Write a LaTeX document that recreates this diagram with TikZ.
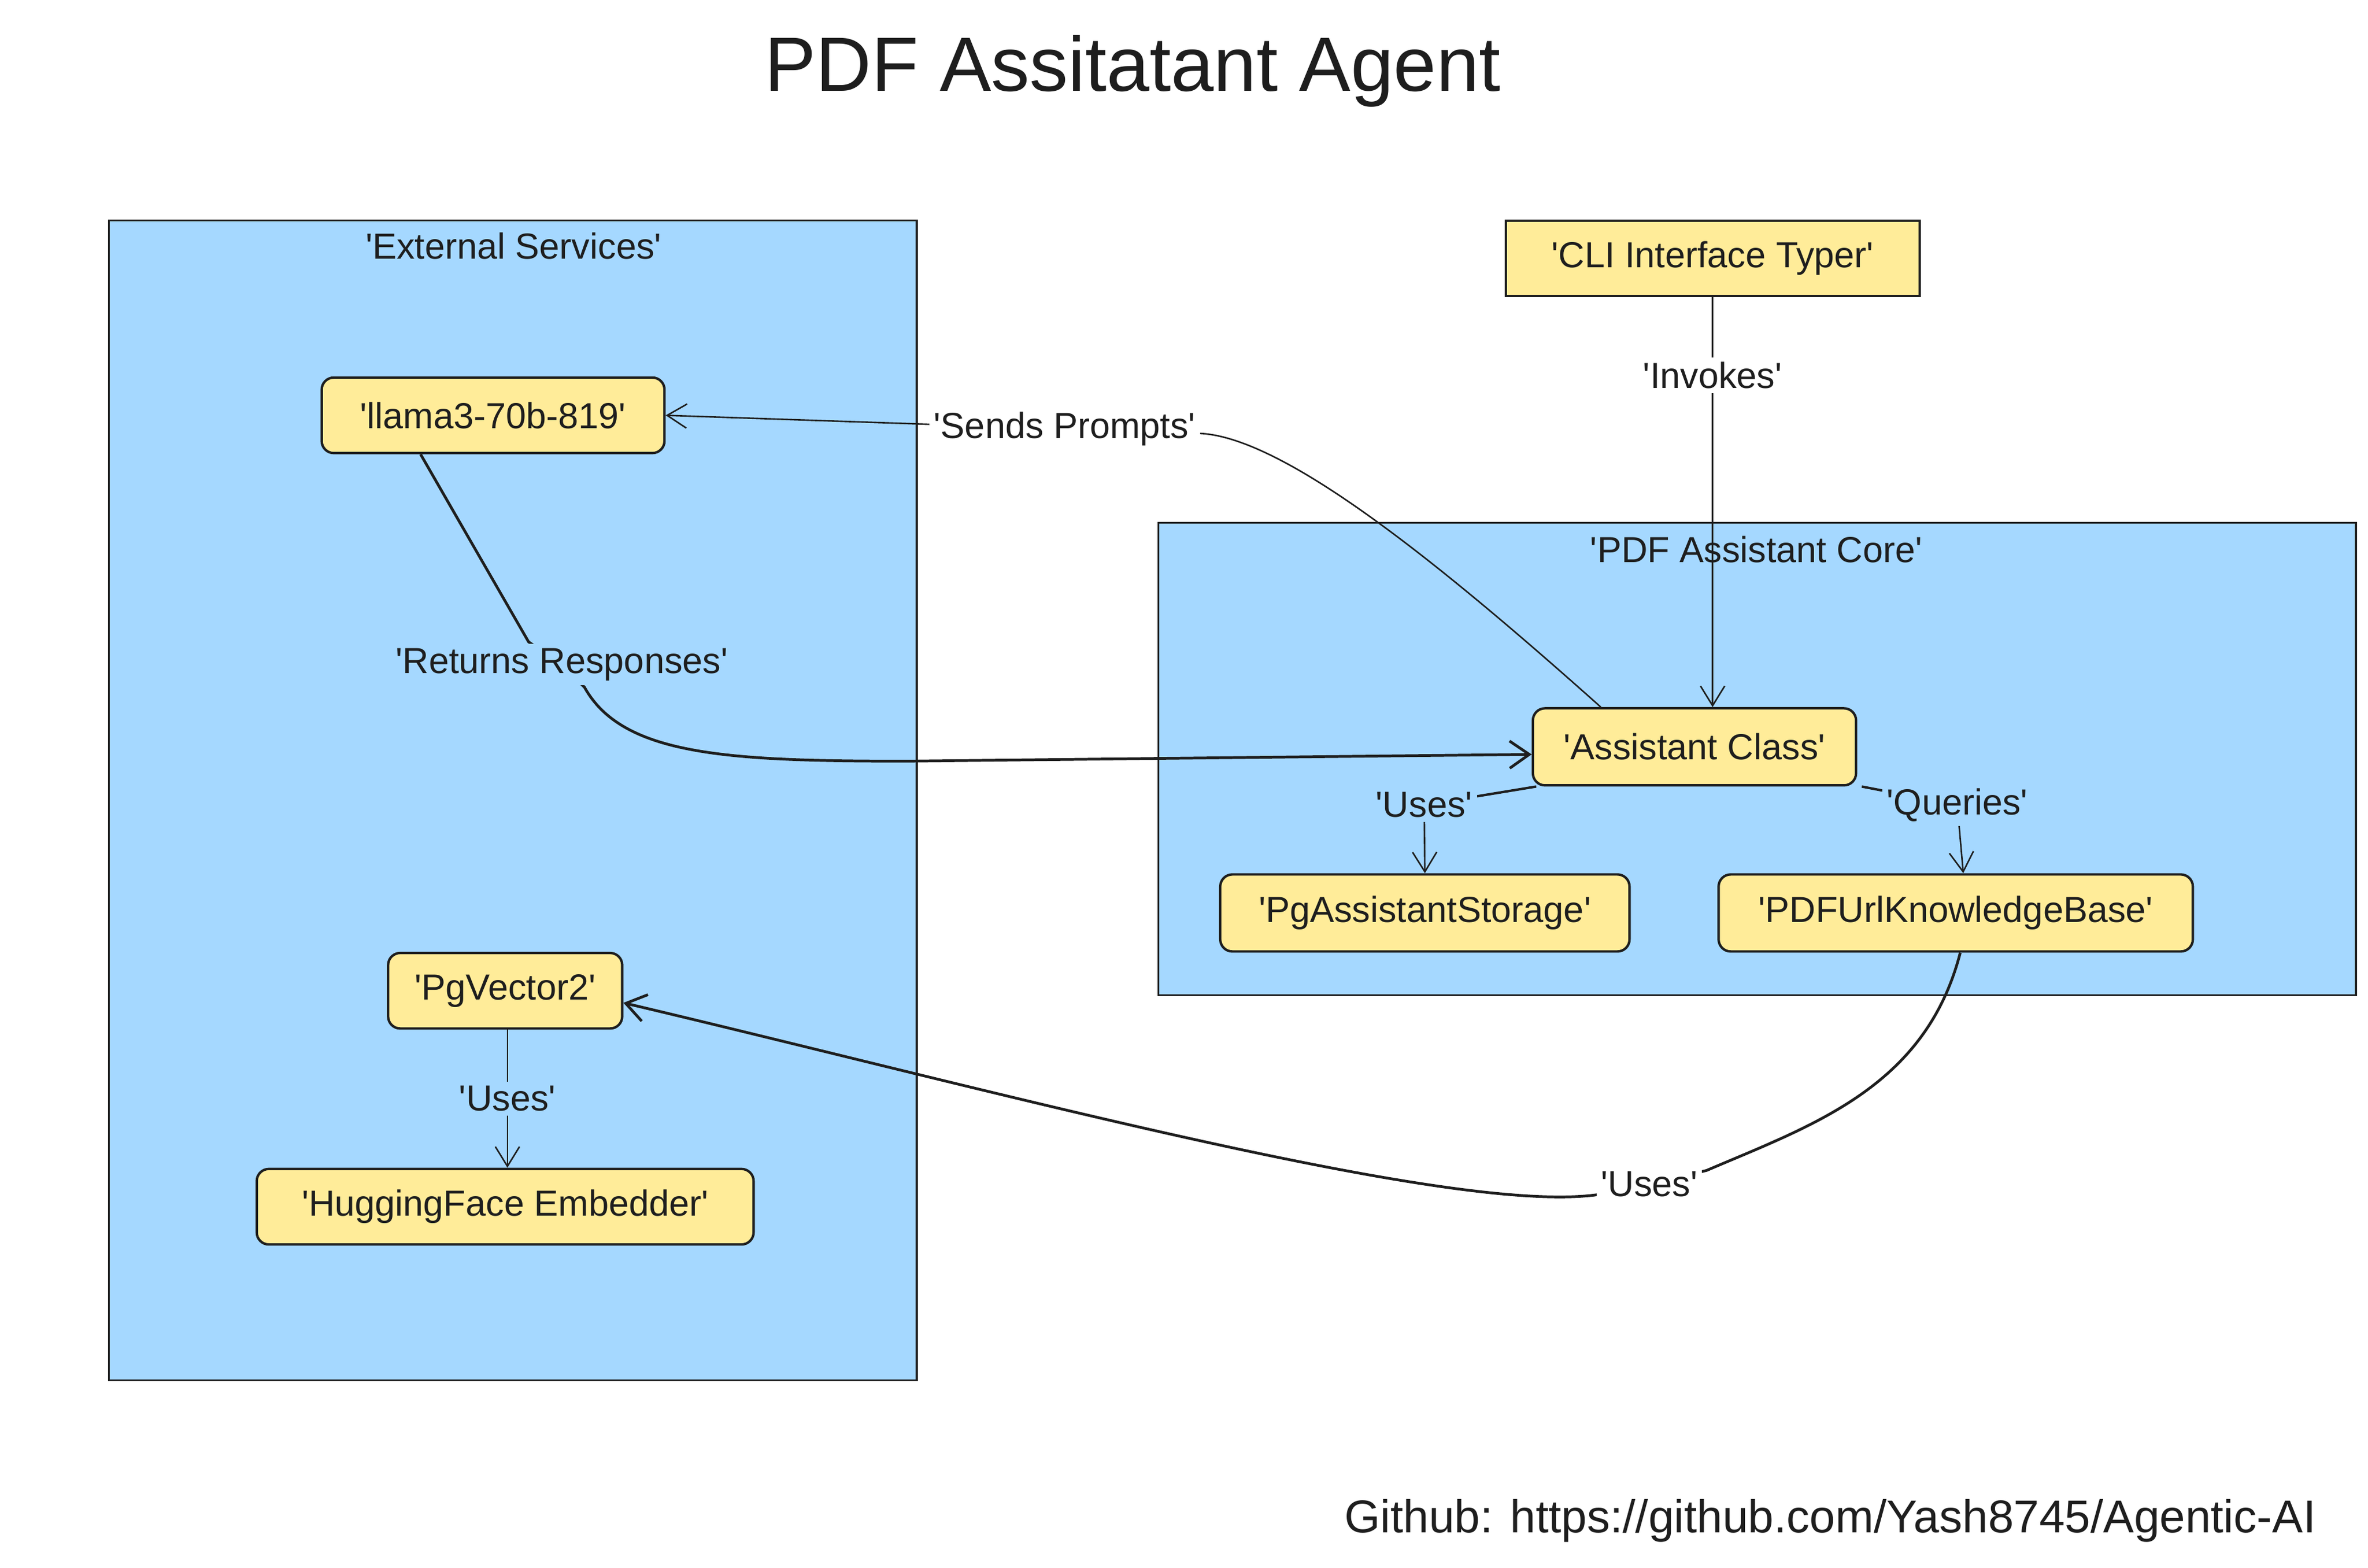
\documentclass[tikz,border=0pt]{standalone}
\usepackage{fontspec}
\newfontfamily\hand{Liberation Sans}
\usetikzlibrary{arrows.meta}
\definecolor{cblue}{HTML}{A5D8FF}
\definecolor{cyel}{HTML}{FFEC99}
\definecolor{cink}{HTML}{1E1E1E}
\begin{document}
\begin{tikzpicture}[x=1pt,y=-1pt,
  every node/.style={text=cink},
  nodebox/.style={draw=cink, fill=cyel, line width=1.6pt, rounded corners=8pt, inner sep=0pt,
    font=\hand\fontsize{24}{28}\selectfont},
  sqbox/.style={nodebox, rounded corners=0pt},
  container/.style={draw=cink, fill=cblue, line width=1.2pt},
  grouplbl/.style={font=\hand\fontsize{24}{28}\selectfont, inner sep=1pt},
  elbl/.style={font=\hand\fontsize{24}{28}\selectfont, inner sep=3pt},
  thinedge/.style={draw=cink, line width=1pt, -{Straight Barb[length=13pt,width=16pt]}},
  thickedge/.style={draw=cink, line width=1.8pt, -{Straight Barb[length=13pt,width=18pt]}},
  thinline/.style={draw=cink, line width=1pt},
]
\useasboundingbox (0,0) rectangle (1568,1038);
\fill[white] (0,0) rectangle (1568,1038);

% title
\node[font=\hand\fontsize{51}{58}\selectfont] (title) at (750,47) {PDF Assitatant Agent};

% containers
\draw[container] (72,146) rectangle (607,914);
\node[grouplbl] (extlbl) at (340,163) {'External Services'};
\draw[container] (767,346) rectangle (1560,659);
\node[grouplbl] (corelbl) at (1163,364) {'PDF Assistant Core'};

% nodes
\node[sqbox, minimum width=274pt, minimum height=50pt] (cli) at (1134,171) {'CLI Interface Typer'};
\node[nodebox, minimum width=227pt, minimum height=50pt] (llama) at (326.5,275) {'llama3-70b-819'};
\node[nodebox, minimum width=214pt, minimum height=51pt] (asst) at (1122,494.5) {'Assistant Class'};
\node[nodebox, minimum width=271pt, minimum height=51pt] (pgas) at (943.5,604.5) {'PgAssistantStorage'};
\node[nodebox, minimum width=314pt, minimum height=51pt] (pdfkb) at (1295,604.5) {'PDFUrlKnowledgeBase'};
\node[nodebox, minimum width=155pt, minimum height=50pt] (pgv) at (334.5,656) {'PgVector2'};
\node[nodebox, minimum width=329pt, minimum height=50pt] (hf) at (334.5,799) {'HuggingFace Embedder'};

% Invokes
\draw[thinedge] (cli.south) -- node[elbl, fill=white, pos=0.19] (invlbl) {'Invokes'} (cli.south |- asst.north);

% Sends Prompts
\coordinate (spc) at (705,284);
\draw[thinedge] ([xshift=-62pt]asst.north) .. controls (950,370) and (850,290) .. (795,287)
   -- (spc) -- (llama.east);
\node[elbl, fill=white] (splbl) at (spc) {'Sends Prompts'};

% Returns Responses
\coordinate (rrc) at (372,440);
\draw[thickedge] ([xshift=-48pt]llama.south) -- (350,425) -- (rrc) -- (387,455)
   .. controls (412,500) and (480,504) .. (600,504) -- ([yshift=-5pt]asst.west);
\node[elbl, fill=cblue] (rrlbl) at (rrc) {'Returns Responses'};

% Uses (asst -> pgas)
\coordinate (u1c) at (943,533);
\draw[thinline, line width=1.6pt] ([xshift=3pt]asst.south west) -- (u1c);
\draw[thinedge] (u1c) -- (pgas.north);
\node[elbl, fill=cblue] (u1lbl) at (u1c) {'Uses'};

% Queries (asst -> pdfkb)
\coordinate (qc) at (1296,533);
\draw[thinline, line width=1.6pt] ([xshift=3pt]asst.south east) -- (qc);
\draw[thinedge] (qc) -- ([xshift=5pt]pdfkb.north);
\node[elbl, fill=cblue] (qlbl) at (qc) {'Queries'};

% Uses (pdfkb -> pgv)
\coordinate (u2c) at (1092,784);
\draw[thickedge] ([xshift=3pt]pdfkb.south) .. controls (1275,720) and (1200,745) .. (1130,775)
   -- (u2c) -- (1058,791)
   .. controls (960,805) and (650,720) .. ([yshift=-8pt]pgv.east);
\node[elbl, fill=white] (u2lbl) at (u2c) {'Uses'};

% Uses (pgv -> hf)
\draw[thinedge] ([xshift=1.5pt]pgv.south) -- node[elbl, fill=cblue, pos=0.5] (u3lbl) {'Uses'} ([xshift=1.5pt]hf.north);

% footer
\node[font=\hand\fontsize{30.5}{34}\selectfont, anchor=east] (gh) at (1537,1007) {Github: https://github.com/Yash8745/Agentic-AI};
\end{tikzpicture}
\end{document}
